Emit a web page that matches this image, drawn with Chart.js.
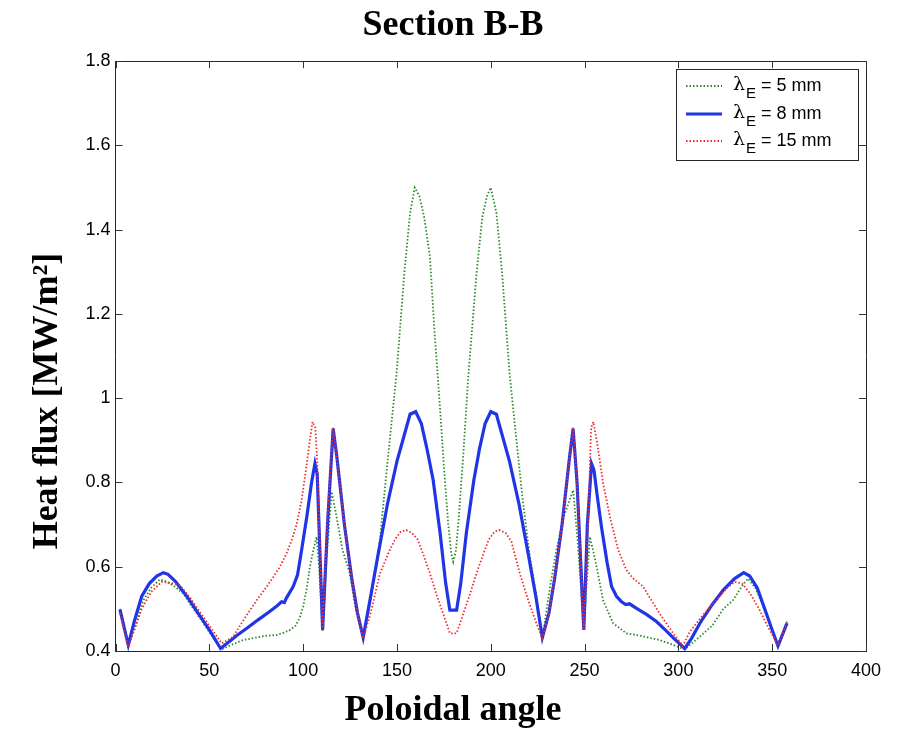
<!DOCTYPE html>
<html>
<head>
<meta charset="utf-8">
<script src="https://cdn.jsdelivr.net/npm/chart.js@4.4.1/dist/chart.umd.min.js"></script>
<style>
  html, body { margin: 0; padding: 0; background: #ffffff; }
  #wrap { width: 898px; height: 731px; }
</style>
</head>
<body>
<div id="wrap"><canvas id="c" width="898" height="731"></canvas></div>
<script>
// ---- data ----
const chartTitle = 'Section B-B';
const xTitle = 'Poloidal angle';
const yTitle = 'Heat flux [MW/m²]';

const xTicks = [0, 50, 100, 150, 200, 250, 300, 350, 400];
const yTicks = [0.4, 0.6, 0.8, 1.0, 1.2, 1.4, 1.6, 1.8];
const yTickLabels = ['0.4', '0.6', '0.8', '1', '1.2', '1.4', '1.6', '1.8'];

const seriesNames = ['5 mm', '8 mm', '15 mm'];

const angle5 = [2.4, 6.8, 10, 14.8, 19, 23.7, 27, 31, 36, 40, 45, 50, 56.6, 62, 68, 75, 80, 85.9, 90, 93, 96, 98.3, 100, 102, 103.6, 105.5, 107.2, 108.5, 110.4, 112.5, 115.2, 117.8, 121, 124.9, 128, 132, 136, 140.9, 145, 149.8, 154, 157, 159.5, 162, 164.5, 167.6, 170, 172.9, 175, 177.3, 179, 180, 181.5, 183, 185.3, 188, 192.4, 195.5, 198, 200, 203, 206, 210, 213.7, 217, 220.8, 224, 227.5, 231.5, 235, 239, 243.9, 246.5, 249.6, 251, 252.8, 254.5, 256.4, 259.9, 265.2, 272.3, 280, 290, 297, 303.4, 311.4, 318, 324, 329.2, 334, 337.1, 341, 346, 350, 353.1, 357.9];
const flux5 = [0.5, 0.415, 0.45, 0.52, 0.55, 0.57, 0.565, 0.555, 0.537, 0.51, 0.478, 0.445, 0.404, 0.415, 0.426, 0.432, 0.436, 0.438, 0.444, 0.45, 0.46, 0.48, 0.505, 0.55, 0.6, 0.64, 0.671, 0.6, 0.446, 0.62, 0.778, 0.719, 0.64, 0.584, 0.5, 0.43, 0.52, 0.663, 0.85, 1.059, 1.3, 1.44, 1.5, 1.48, 1.43, 1.335, 1.16, 0.98, 0.84, 0.703, 0.63, 0.612, 0.64, 0.72, 0.861, 1.05, 1.296, 1.43, 1.48, 1.5, 1.44, 1.3, 1.06, 0.9, 0.76, 0.624, 0.54, 0.43, 0.55, 0.64, 0.72, 0.782, 0.65, 0.45, 0.55, 0.671, 0.64, 0.6, 0.52, 0.466, 0.442, 0.436, 0.426, 0.415, 0.404, 0.434, 0.46, 0.5, 0.521, 0.555, 0.572, 0.55, 0.5, 0.45, 0.412, 0.47];

const angle8 = [2.4, 6.8, 10, 14, 18, 22, 25.5, 28, 32, 38, 44, 50, 56, 60, 65, 70, 76, 82, 86, 88.5, 90, 91, 94.7, 97, 99.2, 102, 104.5, 106.3, 107.5, 110.4, 113, 116, 118, 122, 126, 129, 132, 136, 140, 145, 150, 155, 157, 160, 163, 166, 169.3, 173, 176, 178.2, 181.8, 184, 187, 191, 194, 197, 200, 203, 205, 210, 215, 220, 224, 227.5, 231, 234, 238, 242, 243.9, 246, 249.6, 251.5, 253.7, 255, 257, 259, 262, 264.4, 267, 269.7, 272, 274, 277.7, 283, 288.3, 293, 298, 303.4, 307, 312, 318, 324, 330, 334.8, 338, 342, 346, 350, 353.1, 357.9];
const flux8 = [0.498, 0.414, 0.47, 0.53, 0.56, 0.578, 0.586, 0.582, 0.565, 0.53, 0.49, 0.45, 0.406, 0.42, 0.438, 0.454, 0.474, 0.493, 0.507, 0.517, 0.515, 0.525, 0.553, 0.58, 0.64, 0.72, 0.8, 0.845, 0.82, 0.45, 0.7, 0.928, 0.86, 0.7, 0.57, 0.49, 0.432, 0.53, 0.63, 0.75, 0.85, 0.93, 0.962, 0.968, 0.94, 0.88, 0.806, 0.68, 0.56, 0.497, 0.497, 0.56, 0.68, 0.806, 0.88, 0.94, 0.968, 0.962, 0.93, 0.85, 0.75, 0.63, 0.53, 0.432, 0.49, 0.57, 0.7, 0.86, 0.928, 0.8, 0.45, 0.7, 0.845, 0.83, 0.76, 0.695, 0.61, 0.553, 0.53, 0.517, 0.51, 0.512, 0.501, 0.487, 0.47, 0.45, 0.428, 0.406, 0.43, 0.47, 0.51, 0.545, 0.572, 0.586, 0.578, 0.55, 0.5, 0.45, 0.412, 0.466];

const angle15 = [2.4, 6.8, 10, 14, 19, 24.6, 29, 34.4, 40, 45, 50, 56.6, 62.8, 67, 71.7, 76, 80.6, 84, 87.6, 91, 93.9, 96.5, 99.2, 101.5, 103.6, 105, 106.5, 107.5, 110.4, 113, 116, 118, 122, 126, 129, 132, 136, 140.9, 146.2, 149, 152, 155, 158, 161, 164, 167.6, 171, 174.6, 178.2, 181.8, 185.4, 188.9, 192.4, 196, 199, 202, 204.5, 208, 211, 215.5, 220, 224, 227.5, 231, 234, 238, 242, 243.9, 246, 249.6, 252, 253.5, 254.6, 256.5, 259.9, 263.5, 267.9, 272.3, 276, 281.2, 285, 290, 297.2, 302.4, 306.1, 313, 320.3, 326, 330, 334, 338.2, 343, 348, 353, 357.9];
const flux15 = [0.49, 0.41, 0.45, 0.5, 0.54, 0.564, 0.562, 0.556, 0.525, 0.493, 0.46, 0.418, 0.434, 0.465, 0.497, 0.525, 0.553, 0.575, 0.6, 0.63, 0.663, 0.7, 0.758, 0.83, 0.9, 0.944, 0.93, 0.85, 0.45, 0.72, 0.93, 0.86, 0.7, 0.57, 0.49, 0.43, 0.49, 0.584, 0.64, 0.665, 0.683, 0.687, 0.68, 0.665, 0.63, 0.584, 0.535, 0.489, 0.442, 0.442, 0.489, 0.535, 0.584, 0.63, 0.665, 0.683, 0.687, 0.68, 0.66, 0.584, 0.52, 0.47, 0.43, 0.49, 0.57, 0.7, 0.86, 0.93, 0.8, 0.45, 0.72, 0.93, 0.944, 0.9, 0.798, 0.719, 0.64, 0.592, 0.572, 0.553, 0.525, 0.489, 0.442, 0.412, 0.446, 0.485, 0.521, 0.55, 0.564, 0.56, 0.537, 0.5, 0.455, 0.414, 0.466];

// ---- helpers ----
const pts = (xs, ys) => xs.map((x, i) => ({ x: x, y: ys[i] }));
const serifFamily = "'Liberation Serif', 'Times New Roman', serif";
const titleFont = { family: serifFamily, size: 36, weight: 'bold' };
const xTitleFont = { family: serifFamily, size: 36, weight: 'bold', lineHeight: 1.1 };
const sansTick = { family: "'Liberation Sans', Arial, sans-serif", size: 18 };
const frameColor = '#262626';

// inward tick marks (MATLAB style)
const inwardTicks = {
  id: 'inwardTicks',
  afterDatasetsDraw(chart) {
    const { ctx, chartArea: a, scales } = chart;
    const len = 7;
    ctx.save();
    ctx.strokeStyle = '#333';
    ctx.lineWidth = 1;
    ctx.beginPath();
    xTicks.forEach(v => {
      const px = Math.round(scales.x.getPixelForValue(v)) + 0.5;
      ctx.moveTo(px, a.bottom); ctx.lineTo(px, a.bottom - len);
      ctx.moveTo(px, a.top); ctx.lineTo(px, a.top + len);
    });
    yTicks.forEach(v => {
      const py = Math.round(scales.y.getPixelForValue(v)) + 0.5;
      ctx.moveTo(a.left, py); ctx.lineTo(a.left + len, py);
      ctx.moveTo(a.right, py); ctx.lineTo(a.right - len, py);
    });
    ctx.stroke();
    ctx.restore();
  }
};

// y-axis label placed as in the reference (offset below the axis centre)
const yLabel = {
  id: 'yLabel',
  afterDraw(chart) {
    const ctx = chart.ctx;
    ctx.save();
    ctx.translate(48, 401);
    ctx.rotate(-Math.PI / 2);
    ctx.font = 'bold 36px ' + serifFamily;
    ctx.fillStyle = '#000';
    ctx.textAlign = 'center';
    ctx.textBaseline = 'middle';
    ctx.fillText(yTitle, 0, 0);
    ctx.restore();
  }
};

// legend box with subscript E, drawn from the dataset styles
const boxLegend = {
  id: 'boxLegend',
  afterDraw(chart) {
    const ctx = chart.ctx;
    const bx = 676.5, by = 69.5, bw = 182, bh = 91;
    ctx.save();
    ctx.fillStyle = '#fff';
    ctx.fillRect(bx, by, bw, bh);
    ctx.strokeStyle = frameColor;
    ctx.lineWidth = 1;
    ctx.strokeRect(bx, by, bw, bh);
    const rows = [86, 114, 141];
    chart.data.datasets.forEach((ds, i) => {
      const y = rows[i];
      ctx.save();
      ctx.strokeStyle = ds.borderColor;
      ctx.lineWidth = ds.borderWidth;
      ctx.setLineDash(ds.borderDash || []);
      ctx.beginPath();
      ctx.moveTo(686, y); ctx.lineTo(722, y);
      ctx.stroke();
      ctx.restore();
      ctx.fillStyle = '#000';
      ctx.textBaseline = 'middle';
      ctx.textAlign = 'left';
      ctx.font = "19px 'DejaVu Serif', 'Liberation Serif', serif";
      ctx.fillText('λ', 733, y - 1);
      ctx.font = "15px 'Liberation Sans', Arial, sans-serif";
      ctx.fillText('E', 746, y + 8);
      ctx.font = "18px 'Liberation Sans', Arial, sans-serif";
      ctx.fillText('= ' + seriesNames[i], 761, y);
    });
    ctx.restore();
  }
};

const chart = new Chart(document.getElementById('c'), {
  type: 'line',
  data: {
    datasets: [
      { label: 'λE = ' + seriesNames[0], data: pts(angle5, flux5), borderColor: '#2a8a2a', borderWidth: 1.8, borderDash: [1.5, 2.0], pointRadius: 0, tension: 0, order: 2 },
      { label: 'λE = ' + seriesNames[1], data: pts(angle8, flux8), borderColor: '#1f35e6', borderWidth: 3.2, pointRadius: 0, tension: 0, order: 1 },
      { label: 'λE = ' + seriesNames[2], data: pts(angle15, flux15), borderColor: '#f02a2a', borderWidth: 1.8, borderDash: [1.5, 2.0], pointRadius: 0, tension: 0, order: 0 }
    ]
  },
  options: {
    responsive: false,
    animation: false,
    devicePixelRatio: 1,
    layout: { padding: { left: 8, right: 0, top: 0, bottom: 0 } },
    plugins: {
      legend: { display: false },
      tooltip: { enabled: false },
      title: {
        display: true, text: chartTitle, color: '#000', font: titleFont,
        padding: { top: 4, bottom: 14 }
      },
      subtitle: {
        display: true, position: 'bottom', text: xTitle, color: '#000', font: xTitleFont,
        padding: { top: 0, bottom: 0 }
      }
    },
    scales: {
      x: {
        type: 'linear', position: 'bottom', min: 0, max: 400,
        afterBuildTicks: s => { s.ticks = xTicks.map(v => ({ value: v })); },
        ticks: { color: '#000', font: sansTick, padding: 9, maxRotation: 0, autoSkip: false,
                 callback: (v) => String(v) },
        grid: { display: false, drawTicks: false },
        border: { display: true, color: frameColor, width: 1 },
        afterFit: s => { s.height = 40.4; }
      },
      x2: {
        type: 'linear', position: 'top', min: 0, max: 400,
        ticks: { display: false },
        grid: { display: false, drawTicks: false },
        border: { display: true, color: frameColor, width: 1 },
        afterFit: s => { s.height = 0; }
      },
      y: {
        type: 'linear', position: 'left', min: 0.4, max: 1.8,
        afterBuildTicks: s => { s.ticks = yTicks.map(v => ({ value: v })); },
        ticks: { color: '#000', font: sansTick, padding: 5,
                 callback: (v, i) => yTickLabels[i] },
        grid: { display: false, drawTicks: false },
        border: { display: true, color: frameColor, width: 1 },
        afterFit: s => { s.width = 107.5; }
      },
      y2: {
        type: 'linear', position: 'right', min: 0.4, max: 1.8,
        ticks: { display: false },
        grid: { display: false, drawTicks: false },
        border: { display: true, color: frameColor, width: 1 },
        afterFit: s => { s.width = 32; }
      }
    }
  },
  plugins: [inwardTicks, yLabel, boxLegend]
});
</script>
</body>
</html>
